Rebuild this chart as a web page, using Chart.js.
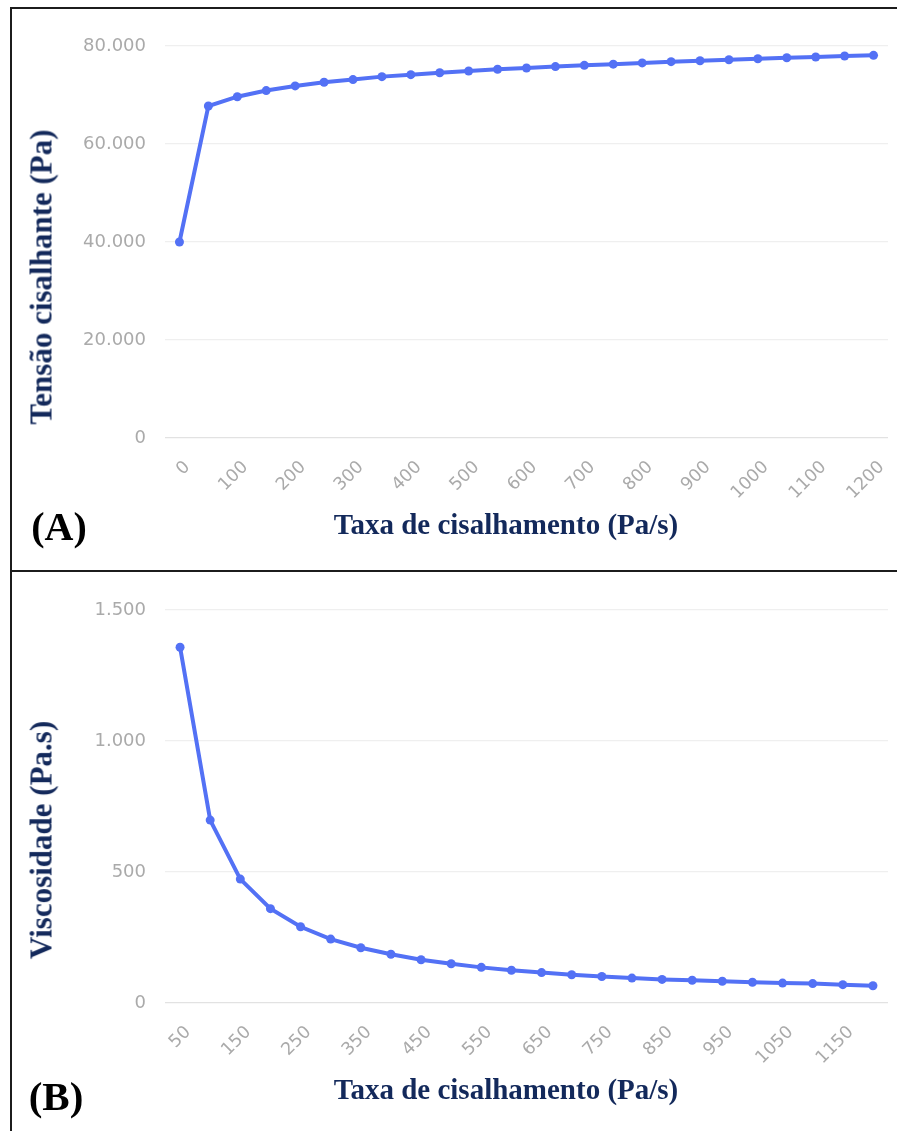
<!DOCTYPE html>
<html>
<head>
<meta charset="utf-8">
<script src="https://cdn.jsdelivr.net/npm/chart.js@4"></script>
<style>
  html, body { margin:0; padding:0; background:#fff; width:897px; height:1131px; overflow:hidden; position:relative; }
  .box { position:absolute; border:2px solid #1c1c1c; box-sizing:border-box; }
  .cv { position:absolute; }
  .t { position:absolute; font-family:"Liberation Serif","Times New Roman",serif; font-weight:bold; white-space:nowrap; line-height:1; transform:translate(-50%,-50%); }
  .navy { color:#13295b; }
  .yt { transform:translate(-50%,-50%) rotate(-90deg); }
</style>
</head>
<body>
<div class="box" style="left:10px; top:7px; width:900px; height:565px;"></div>
<div class="box" style="left:10px; top:570px; width:900px; height:600px;"></div>

<canvas id="cA" class="cv" width="885" height="560" style="left:12px; top:9px;"></canvas>
<canvas id="cB" class="cv" width="885" height="559" style="left:12px; top:572px;"></canvas>

<div class="t navy yt" style="left:41px; top:277px; font-size:31px;">Tensão cisalhante (Pa)</div>
<div class="t navy" style="left:506px; top:524px; font-size:29px;">Taxa de cisalhamento (Pa/s)</div>
<div class="t" style="left:59px; top:527px; font-size:40px; color:#000;">(A)</div>

<div class="t navy yt" style="left:41px; top:840px; font-size:31px;">Viscosidade (Pa.s)</div>
<div class="t navy" style="left:506px; top:1089px; font-size:29px;">Taxa de cisalhamento (Pa/s)</div>
<div class="t" style="left:56px; top:1096px; font-size:41px; color:#000;">(B)</div>

<script>
// ---- data ----
const rateA = ["0","50","100","150","200","250","300","350","400","450","500","550","600","650","700","750","800","850","900","950","1000","1050","1100","1150","1200"];
const tension = [40000, 67750, 69650, 70900, 71850, 72600, 73150, 73750, 74150, 74550, 74900, 75250, 75500, 75800, 76050, 76300, 76550, 76800, 77000, 77200, 77400, 77600, 77750, 77950, 78100];

const rateB = ["50","100","150","200","250","300","350","400","450","500","550","600","650","700","750","800","850","900","950","1000","1050","1100","1150","1200"];
const viscosity = [1358, 698, 473, 360, 291, 244, 211, 186, 165, 150, 136, 125, 116, 108, 101, 95, 90, 87, 83, 79, 76, 74, 70, 66];

const yMaxA = 80000, yStepA = 20000;
const yMaxB = 1500, yStepB = 500;

// ---- styles ----
const LINE = '#5371f5';
const TICK = '#aaaaaa';

function fmt(v) { return String(v).replace(/\B(?=(\d{3})+(?!\d))/g, '.'); }

// nudge rotated x tick labels slightly to the right (matches the reference placement)
const shiftLabels = {
  id: 'shiftLabels',
  beforeDraw(chart) {
    const items = chart.scales.x.getLabelItems();
    items.forEach(it => { it.options.translation = [it.options.translation[0] + 8, it.options.translation[1] + 1]; });
  }
};

function makeChart(id, labels, values, yMax, yStep, yWidth, xHeight, topPad) {
  return new Chart(document.getElementById(id), {
    type: 'line',
    data: {
      labels: labels,
      datasets: [{
        data: values,
        borderColor: LINE,
        backgroundColor: LINE,
        borderWidth: 4,
        pointRadius: 4.5,
        pointBackgroundColor: LINE,
        pointBorderColor: LINE,
        pointBorderWidth: 0,
        tension: 0,
        fill: false
      }]
    },
    plugins: [shiftLabels],
    options: {
      responsive: false,
      animation: false,
      events: [],
      layout: { padding: { left: 0, top: topPad, right: 9, bottom: 0 } },
      plugins: { legend: { display: false }, tooltip: { enabled: false }, title: { display: false } },
      scales: {
        x: {
          type: 'category',
          offset: true,
          grid: { display: false, drawTicks: false },
          border: { display: false },
          ticks: {
            color: TICK, font: { family: 'DejaVu Sans', size: 17.5 }, autoSkip: false,
            minRotation: 45, maxRotation: 45, padding: 18,
            callback: function(val, i) { return i % 2 === 0 ? this.getLabelForValue(val) : ''; }
          },
          afterFit: (s) => { s.height = xHeight; s.paddingLeft = 0; s.paddingRight = 0; }
        },
        y: {
          min: 0, max: yMax,
          grid: {
            drawTicks: false,
            color: (ctx) => ctx.tick && ctx.tick.value === 0 ? '#e2e2e2' : '#efefef',
            lineWidth: 1.2
          },
          border: { display: false },
          ticks: { color: TICK, font: { family: 'DejaVu Sans', size: 18 }, stepSize: yStep, padding: 19, callback: (v) => fmt(v) },
          afterFit: (s) => { s.width = yWidth; }
        }
      }
    }
  });
}

makeChart('cA', rateA, tension, yMaxA, yStepA, 153, 131, 37);
makeChart('cB', rateB, viscosity, yMaxB, yStepB, 153, 128, 38);
</script>
</body>
</html>
